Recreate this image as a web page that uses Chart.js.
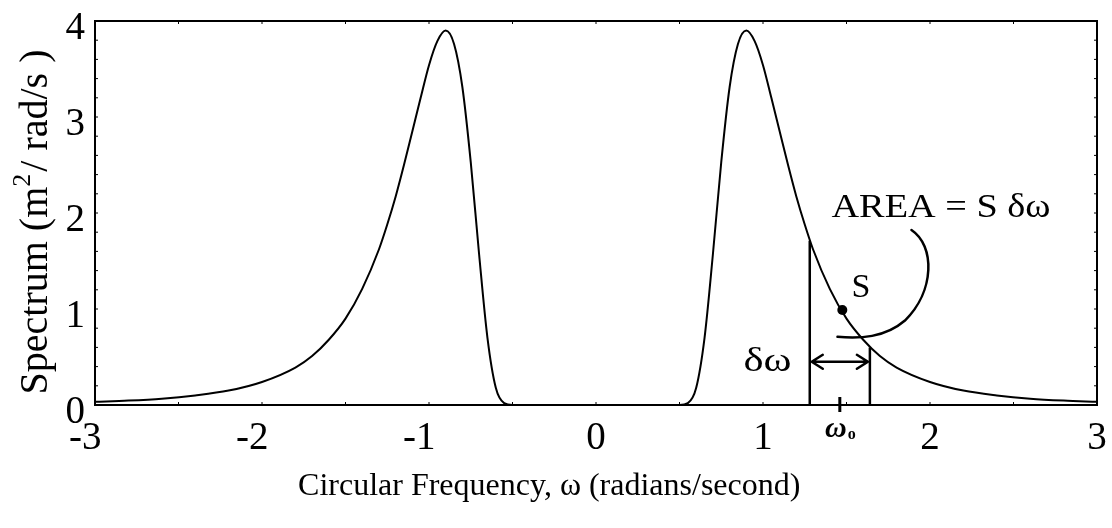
<!DOCTYPE html>
<html>
<head>
<meta charset="utf-8">
<script src="https://cdn.jsdelivr.net/npm/chart.js@4"></script>
<style>
  html, body { margin: 0; padding: 0; background: #fff; }
  #wrap { width: 1112px; height: 528px; }
</style>
</head>
<body>
<div id="wrap"><canvas id="c" width="1112" height="528"></canvas></div>
<script>
// ---- data ----
const omegaPos = [0.50, 0.55, 0.60, 0.65, 0.70, 0.75, 0.80, 0.85, 0.90, 0.95, 1.00, 1.05, 1.10, 1.15, 1.20, 1.25, 1.30, 1.40, 1.50, 1.60, 1.70, 1.80, 2.00, 2.20, 2.40, 2.60, 2.80, 3.00];
const spectrumPos = [0.00, 0.02, 0.18, 0.70, 1.57, 2.53, 3.31, 3.76, 3.90, 3.79, 3.54, 3.20, 2.85, 2.50, 2.17, 1.88, 1.62, 1.21, 0.90, 0.68, 0.51, 0.39, 0.24, 0.15, 0.10, 0.066, 0.046, 0.033];
const omegaNeg = [-3.00, -2.80, -2.60, -2.40, -2.20, -2.00, -1.80, -1.70, -1.60, -1.50, -1.40, -1.30, -1.25, -1.20, -1.15, -1.10, -1.05, -1.00, -0.95, -0.90, -0.85, -0.80, -0.75, -0.70, -0.65, -0.60, -0.55, -0.50];
const spectrumNeg = [0.033, 0.046, 0.066, 0.10, 0.15, 0.24, 0.39, 0.51, 0.68, 0.90, 1.21, 1.62, 1.88, 2.17, 2.50, 2.85, 3.20, 3.54, 3.79, 3.90, 3.76, 3.31, 2.53, 1.57, 0.70, 0.18, 0.02, 0.00];

const xTickValues = [-3, -2, -1, 0, 1, 2, 3];
const yTickValues = [0, 1, 2, 3, 4];

// annotation values (data units)
const bandLeft = 1.28, bandLeftTop = 1.71;
const bandRight = 1.64, bandRightTop = 0.60;
const arrowLevel = 0.45;
const omega0 = 1.46;
const markerPoint = [1.475, 0.99];
const areaLabel = "AREA = S δω";
const areaLabelPos = [1.41, 2.05];
const sLabelPos = [1.53, 1.22];
const dOmegaLabelPos = [1.17, 0.45];
const leaderPath = [[1.889, 1.823], [2.03, 1.66], [2.03, 1.19], [1.85, 0.88], [1.73, 0.70], [1.58, 0.69], [1.446, 0.71]];
const xTitle = "Circular Frequency, ω (radians/second)";

const points = [];
omegaNeg.forEach((w, i) => points.push({x: w, y: spectrumNeg[i]}));
omegaPos.forEach((w, i) => points.push({x: w, y: spectrumPos[i]}));

const SERIF = "'Liberation Serif', 'Times New Roman', serif";

// draw text stretched horizontally by a factor
function wideText(ctx, text, x, y, sx, align) {
  ctx.save();
  const w = ctx.measureText(text).width * sx;
  let left = x;
  if (align === 'right') left = x - w;
  else if (align === 'center') left = x - w / 2;
  ctx.translate(left, y);
  ctx.scale(sx, 1);
  ctx.textAlign = 'left';
  ctx.fillText(text, 0, 0);
  ctx.restore();
}

const annotPlugin = {
  id: 'annot',
  afterDraw(chart) {
    const ctx = chart.ctx;
    const xs = chart.scales.x, ys = chart.scales.y;
    const X = v => xs.getPixelForValue(v);
    const Y = v => ys.getPixelForValue(v);
    const a = chart.chartArea;
    ctx.save();
    ctx.strokeStyle = '#000';
    ctx.fillStyle = '#000';
    // frame
    ctx.lineWidth = 2;
    ctx.strokeRect(a.left, a.top, a.right - a.left, a.bottom - a.top);
    // small inner ticks
    ctx.lineWidth = 1;
    ctx.beginPath();
    for (let v = -3; v <= 3.001; v += 0.5) {
      const px = X(v);
      ctx.moveTo(px, a.bottom); ctx.lineTo(px, a.bottom - 3);
      ctx.moveTo(px, a.top); ctx.lineTo(px, a.top + 3);
    }
    for (let v = 0; v <= 4.001; v += 0.2) {
      const py = Y(v);
      ctx.moveTo(a.left, py); ctx.lineTo(a.left + 3, py);
      ctx.moveTo(a.right, py); ctx.lineTo(a.right - 3, py);
    }
    ctx.stroke();

    // vertical band lines
    ctx.lineWidth = 2.5;
    ctx.beginPath();
    ctx.moveTo(X(bandLeft), Y(0)); ctx.lineTo(X(bandLeft), Y(bandLeftTop));
    ctx.moveTo(X(bandRight), Y(0)); ctx.lineTo(X(bandRight), Y(bandRightTop));
    ctx.stroke();

    // double arrow
    const ay = Y(arrowLevel), ax1 = X(bandLeft) + 2, ax2 = X(bandRight) - 2;
    ctx.lineWidth = 2.5;
    ctx.lineCap = 'round';
    ctx.beginPath();
    ctx.moveTo(ax1, ay); ctx.lineTo(ax2, ay);
    ctx.moveTo(ax1 + 11, ay - 7); ctx.lineTo(ax1, ay); ctx.lineTo(ax1 + 11, ay + 7);
    ctx.moveTo(ax2 - 11, ay - 7); ctx.lineTo(ax2, ay); ctx.lineTo(ax2 - 11, ay + 7);
    ctx.stroke();

    // omega0 tick
    ctx.lineWidth = 3;
    ctx.lineCap = 'butt';
    ctx.beginPath();
    ctx.moveTo(X(omega0), Y(0) - 8); ctx.lineTo(X(omega0), Y(0) + 7);
    ctx.stroke();

    // marker
    ctx.beginPath();
    ctx.arc(X(markerPoint[0]), Y(markerPoint[1]), 5, 0, Math.PI * 2);
    ctx.fill();

    // leader curve
    ctx.lineWidth = 2.5;
    ctx.lineCap = 'round';
    const P = leaderPath.map(p => [X(p[0]), Y(p[1])]);
    ctx.beginPath();
    ctx.moveTo(P[0][0], P[0][1]);
    ctx.bezierCurveTo(P[1][0], P[1][1], P[2][0], P[2][1], P[3][0], P[3][1]);
    ctx.bezierCurveTo(P[4][0], P[4][1], P[5][0], P[5][1], P[6][0], P[6][1]);
    ctx.stroke();

    // texts
    ctx.textBaseline = 'middle';
    ctx.font = '33px ' + SERIF;
    wideText(ctx, areaLabel, X(areaLabelPos[0]), Y(areaLabelPos[1]), 1.16, 'left');
    ctx.font = '34px ' + SERIF;
    wideText(ctx, 'S', X(sLabelPos[0]), Y(sLabelPos[1]), 1.0, 'left');
    ctx.font = '34px ' + SERIF;
    wideText(ctx, 'δω', X(dOmegaLabelPos[0]), Y(dOmegaLabelPos[1]), 1.25, 'right');

    // omega0 label (hand-written look)
    ctx.textAlign = 'center';
    ctx.font = 'italic bold 30px ' + SERIF;
    const w0x = X(omega0), w0y = Y(0) + 24;
    ctx.fillText('ω', w0x - 4, w0y);
    ctx.font = 'bold 16px ' + SERIF;
    ctx.fillText('o', w0x + 12, w0y + 6);

    // x title
    ctx.font = '32px ' + SERIF;
    ctx.textAlign = 'center';
    ctx.textBaseline = 'alphabetic';
    ctx.fillText(xTitle, X(-0.28), a.bottom + 90);

    // y title (rotated)
    ctx.translate(34, (a.top + a.bottom) / 2 + 9);
    ctx.rotate(-Math.PI / 2);
    const p1 = 'Spectrum (m', p3 = '/ rad/s )';
    ctx.font = '40px ' + SERIF;
    const w1 = ctx.measureText(p1).width, w3 = ctx.measureText(p3).width;
    ctx.font = '26px ' + SERIF;
    const w2 = ctx.measureText('2').width;
    const total = w1 + w2 + 2 + w3;
    let cx = -total / 2;
    ctx.textAlign = 'left';
    ctx.textBaseline = 'alphabetic';
    ctx.font = '40px ' + SERIF;
    ctx.fillText(p1, cx, 13);
    cx += w1;
    ctx.font = '26px ' + SERIF;
    ctx.fillText('2', cx, -4);
    cx += w2 + 2;
    ctx.font = '40px ' + SERIF;
    ctx.fillText(p3, cx, 13);
    ctx.restore();
  }
};

const zeroPad = s => { s.paddingLeft = 0; s.paddingRight = 0; s.paddingTop = 0; s.paddingBottom = 0; };

new Chart(document.getElementById('c'), {
  type: 'line',
  data: {
    datasets: [{
      data: points,
      borderColor: '#000',
      borderWidth: 2,
      pointRadius: 0,
      fill: false,
      cubicInterpolationMode: 'monotone'
    }]
  },
  options: {
    responsive: false,
    animation: false,
    layout: { padding: { top: 21, right: 15, left: 0, bottom: 0 } },
    plugins: { legend: { display: false }, tooltip: { enabled: false } },
    scales: {
      x: {
        type: 'linear', min: -3, max: 3,
        afterBuildTicks: s => { s.ticks = xTickValues.map(v => ({value: v})); },
        afterFit: s => { s.height = 123; zeroPad(s); },
        grid: { display: false, drawTicks: false, tickLength: 0 },
        border: { display: true, color: '#000', width: 2 },
        ticks: {
          color: '#000', padding: 14, maxRotation: 0, autoSkip: false,
          font: { family: SERIF, size: 39, lineHeight: 1 },
          callback: v => v < 0 ? String(v) + '\u2002' : String(v)
        }
      },
      y: {
        min: 0, max: 4,
        afterBuildTicks: s => { s.ticks = yTickValues.map(v => ({value: v})); },
        afterFit: s => { s.width = 95; zeroPad(s); },
        grid: { display: false, drawTicks: false, tickLength: 0 },
        border: { display: true, color: '#000', width: 2 },
        ticks: {
          color: '#000', padding: 10, labelOffset: 8,
          font: { family: SERIF, size: 39, lineHeight: 1 },
          callback: v => String(v)
        }
      }
    }
  },
  plugins: [annotPlugin]
});
</script>
</body>
</html>
